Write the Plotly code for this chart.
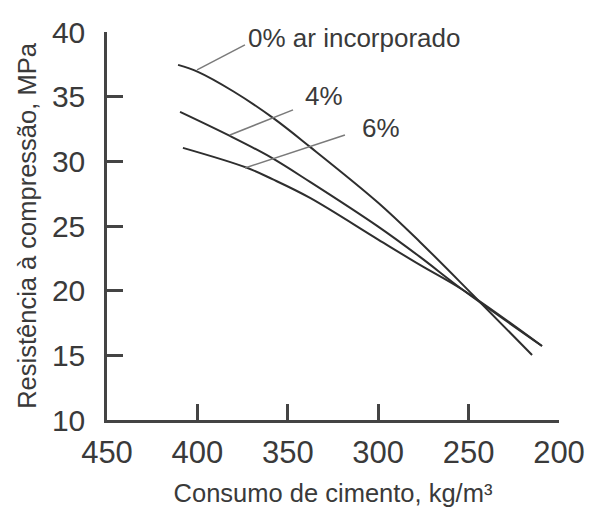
import plotly.graph_objects as go

# Data
cimento_0 = [410.7, 399.7, 380.0, 358.2, 337.7, 300.0, 276.9, 247.6, 214.9]
resist_0 = [37.46, 36.92, 35.4, 33.36, 31.12, 26.8, 23.77, 19.67, 15.03]

cimento_4 = [409.6, 382.0, 359.8, 337.7, 300.0, 276.9, 253.1, 209.4]
resist_4 = [33.82, 31.96, 30.34, 28.41, 24.95, 22.61, 20.05, 15.72]

cimento_6 = [408.0, 372.6, 358.2, 337.7, 300.0, 276.9, 253.1, 209.4]
resist_6 = [31.04, 29.5, 28.6, 27.17, 23.95, 21.99, 20.05, 15.72]

# leader lines (curve point -> label)
leader_0 = ([400.2, 373.7], [37.07, 39.0])
leader_4 = ([382.0, 347.1], [32.04, 33.98])
leader_6 = ([373.7, 318.4], [29.49, 32.04])

labels = ["0% ar incorporado", "4%", "6%"]
label_pos = [(373.1, 39.5, "left"), (330.0, 35.06, "center"), (298.5, 32.58, "center")]

x_ticks = [450, 400, 350, 300, 250, 200]
y_ticks = [10, 15, 20, 25, 30, 35, 40]

FONT = "Liberation Sans, Arial, sans-serif"
CURVE = "#2e2e2e"
LEAD = "#7a7a7a"
AX = "#444444"
TXT = "#3a3a3a"

fig = go.Figure()
for xs, ys in [(cimento_0, resist_0), (cimento_4, resist_4), (cimento_6, resist_6)]:
    fig.add_trace(go.Scatter(x=xs, y=ys, mode="lines",
                             line=dict(color=CURVE, width=2, shape="spline", smoothing=1.0),
                             showlegend=False, hoverinfo="skip", cliponaxis=False))
for xs, ys in [leader_0, leader_4, leader_6]:
    fig.add_trace(go.Scatter(x=xs, y=ys, mode="lines",
                             line=dict(color=LEAD, width=1.5),
                             showlegend=False, hoverinfo="skip", cliponaxis=False))

for txt, (x, y, anc) in zip(labels, label_pos):
    fig.add_annotation(x=x, y=y, text=txt, showarrow=False, xanchor=anc, yanchor="middle",
                       font=dict(family=FONT, size=26, color=TXT))

fig.update_xaxes(range=[450, 200], tickvals=x_ticks, ticktext=[str(v) for v in x_ticks],
                 showline=True, linecolor=AX, linewidth=2.5, ticks="inside", ticklen=16,
                 tickwidth=2.5, tickcolor=AX, showgrid=False, zeroline=False, automargin=False,
                 tickfont=dict(family=FONT, size=31, color=TXT), ticklabelstandoff=3,
                 title=dict(text="Consumo de cimento, kg/m³", standoff=16,
                            font=dict(family=FONT, size=25.5, color=TXT)))
fig.update_yaxes(range=[10, 40], tickvals=y_ticks, ticktext=[str(v) for v in y_ticks],
                 showline=True, linecolor=AX, linewidth=2.5, ticks="inside", ticklen=16,
                 tickwidth=2.5, tickcolor=AX, showgrid=False, zeroline=False, automargin=False,
                 tickfont=dict(family=FONT, size=30, color=TXT), ticklabelstandoff=13,
                 title=dict(text="Resistência à compressão, MPa", standoff=8,
                            font=dict(family=FONT, size=25.5, color=TXT)))

fig.update_layout(width=590, height=512, margin=dict(l=107, r=31, t=32, b=92),
                  plot_bgcolor="white", paper_bgcolor="white")

fig.write_html("out.html")
